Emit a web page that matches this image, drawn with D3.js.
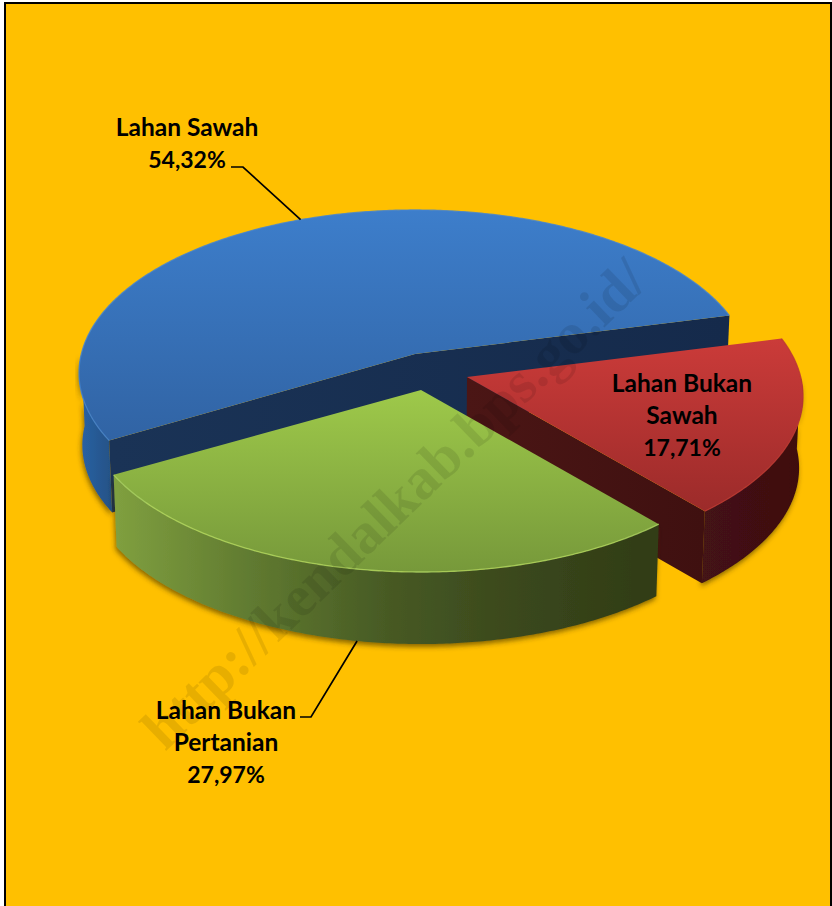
<!DOCTYPE html>
<html>
<head>
<meta charset="utf-8">
<script src="https://cdn.jsdelivr.net/npm/d3@7"></script>
<style>
html, body { margin: 0; padding: 0; background: #fff; overflow: hidden; }
svg { display: block; }
text { font-family: Lato, "Open Sans", sans-serif; font-weight: 700; fill: #000; }
</style>
</head>
<body>
<div id="chart"></div>
<script>
// values, clockwise from the left edge of the blue slice
const categories = ["Lahan Sawah", "Lahan Bukan Sawah", "Lahan Bukan Pertanian"];
const shares = [54.32, 17.71, 27.97];
const shareLabels = ["54,32%", "17,71%", "27,97%"];
const watermark = "http://kendalkab.bps.go.id/";

const width = 832;
const height = 906;

// pie plane: the disc is seen in perspective, so its centre is not the centre of the ellipse
const cx = 414, cy = 353;
const sx = 333.7, sy = 160.8, persp = 0.1166;
const depth = 72, bottomScale = 0.99;
const startDeg = 240.2;

const explode = [[1, 1], [53, 24], [7, 37]];
// the blue cut sits a little further round than the plain angle gives
const startNudge = [-0.6, 0, 0];
const colors = [
    { top: ["#3d7ecb", "#2f609f"], wall: ["#2a62a4", "#234f80"], rim: "#4383cf" },
    { top: ["#cb3b39", "#9c2b2a"], wall: ["#441213", "#3e0f10"], rim: "#b93634" },
    { top: ["#9ec94a", "#76983a"], wall: ["#7f9f3f", "#303c15"], rim: "#afd763" }
];

const svg = d3.select("#chart").append("svg")
    .attr("width", width)
    .attr("height", height);

const defs = svg.append("defs");

const shadow = defs.append("filter").attr("id", "shadow")
    .attr("x", "-10%").attr("y", "-10%").attr("width", "120%").attr("height", "120%");
shadow.append("feDropShadow")
    .attr("dx", -1).attr("dy", 3).attr("stdDeviation", 2.5)
    .attr("flood-color", "#3a2a00").attr("flood-opacity", 0.6);

const soft = defs.append("filter").attr("id", "soft");
soft.append("feGaussianBlur").attr("stdDeviation", 0.6);

function gradient(id, stops, x1, y1, x2, y2) {
    const g = defs.append("linearGradient").attr("id", id)
        .attr("gradientUnits", "userSpaceOnUse")
        .attr("x1", x1).attr("y1", y1).attr("x2", x2).attr("y2", y2);
    stops.forEach((c, i) => {
        g.append("stop").attr("offset", i / (stops.length - 1)).attr("stop-color", c);
    });
}

gradient("top0", colors[0].top, 0, 209, 0, 470);
gradient("top1", colors[1].top, 0, 338, 0, 510);
gradient("top2", colors[2].top, 0, 390, 0, 575);
gradient("wall0", colors[0].wall, 80, 0, 118, 0);
gradient("wall1", colors[1].wall, 700, 0, 805, 0);
gradient("wall2", ["#7f9f3f", "#607a30", "#475a24", "#3a471c", "#303c15"], 117, 0, 657, 0);
gradient("face0", ["#1a3356", "#152a4b"], 112, 0, 728, 0);
gradient("face1", ["#4b1615", "#3f1010"], 467, 0, 704, 0);

const pie = d3.pie().sort(null)
    .startAngle(startDeg * Math.PI / 180)
    .endAngle(startDeg * Math.PI / 180 + 2 * Math.PI);
const slices = pie(shares).map((s, i) => {
    s.startAngle += startNudge[i] * Math.PI / 180;
    return s;
});

// angle (d3 style, clockwise from 12 o'clock) -> screen position on the top face
function rimPoint(a, off) {
    const x = Math.sin(a), y = -Math.cos(a);
    const w = 1 - persp * y;
    return [cx + off[0] + sx * x / w, cy + off[1] + sy * y / w];
}
function centerPoint(off) {
    return [cx + off[0], cy + off[1]];
}
// same point on the bottom face
function lower(p) {
    return [cx + (p[0] - cx) * bottomScale, p[1] + depth];
}
function arcPoints(a0, a1, off) {
    const n = Math.max(2, Math.ceil(Math.abs(a1 - a0) / 0.01));
    return d3.range(n + 1).map(i => rimPoint(a0 + (a1 - a0) * i / n, off));
}

const line = d3.line();
const rad = d => d * Math.PI / 180;

function drawSlice(i, visibleWalls) {
    const s = slices[i], off = explode[i];
    const g = svg.append("g").attr("class", "slice");
    const c = centerPoint(off);

    // outer wall, only the arc that faces the viewer
    const a0 = Math.max(s.startAngle, visibleWalls[0]);
    const a1 = Math.min(s.endAngle, visibleWalls[1]);
    const arc = arcPoints(a0, a1, off);
    g.append("path")
        .attr("d", line(arc.concat(arc.map(lower).reverse())) + "Z")
        .attr("fill", `url(#wall${i})`)
        .attr("filter", "url(#shadow)");

    // flat cut faces
    (i === 0 ? [s.startAngle, s.endAngle] : i === 1 ? [s.endAngle] : []).forEach(a => {
        const p = rimPoint(a, off);
        g.append("path")
            .attr("d", line([c, p, lower(p), lower(c)]) + "Z")
            .attr("fill", `url(#face${i})`);
    });

    // top face
    const top = arcPoints(s.startAngle, s.endAngle, off);
    g.append("path")
        .attr("d", line([c].concat(top)) + "Z")
        .attr("fill", `url(#top${i})`);
    g.append("path")
        .attr("d", line(top))
        .attr("fill", "none")
        .attr("stroke", colors[i].rim)
        .attr("stroke-width", 1.3)
        .attr("stroke-opacity", 0.8)
        .attr("filter", "url(#soft)");
}

// back to front: blue, red, green. d3 angles run on past 360 here, the
// part of the rim facing the viewer is 90-270 degrees, or 450-630 once wrapped
drawSlice(0, [rad(230), rad(270)]);
drawSlice(1, [rad(450), rad(630)]);
drawSlice(2, [rad(450), rad(630)]);

// labels
function label(lines, x, y) {
    const t = svg.append("text")
        .attr("text-anchor", "middle")
        .attr("font-size", 24.5);
    lines.forEach((l, i) => {
        t.append("tspan").attr("x", x).attr("y", y + i * 32)
            .attr("font-size", i === lines.length - 1 ? 23 : null)
            .text(l);
    });
}
label(["Lahan Sawah", shareLabels[0]], 187, 136);
label(["Lahan Bukan", "Sawah", shareLabels[1]], 682, 392);
label(["Lahan Bukan", "Pertanian", shareLabels[2]], 226, 719);

// leader lines run to the middle angle of each slice
function leader(i, elbow, start, useBottom) {
    const s = slices[i];
    let end = rimPoint((s.startAngle + s.endAngle) / 2, explode[i]);
    if (useBottom) end = lower(end);
    svg.append("path")
        .attr("d", line([start, elbow, end]))
        .attr("fill", "none")
        .attr("stroke", "#000")
        .attr("stroke-width", 1.7);
}
leader(0, [243, 167], [231, 167], false);
leader(2, [311, 717], [300, 717], true);

// watermark lies over the whole picture
svg.append("text")
    .attr("transform", "translate(165,752) rotate(-44)")
    .attr("font-size", 58.5)
    .style("font-family", '"Liberation Serif", serif')
    .style("font-weight", 700)
    .style("fill", "#000")
    .style("opacity", 0.09)
    .text(watermark);

// frame
svg.insert("rect", ":first-child")
    .attr("x", 5).attr("y", 3)
    .attr("width", 826).attr("height", 920)
    .attr("fill", "#ffc000")
    .attr("stroke", "#000")
    .attr("stroke-width", 2);
svg.insert("path", ":first-child")
    .attr("d", line([[4.5, height], [4.5, 2.5], [831, 2.5]]))
    .attr("fill", "none")
    .attr("stroke", "#8c8c8c")
    .attr("stroke-width", 1);
</script>
</body>
</html>
